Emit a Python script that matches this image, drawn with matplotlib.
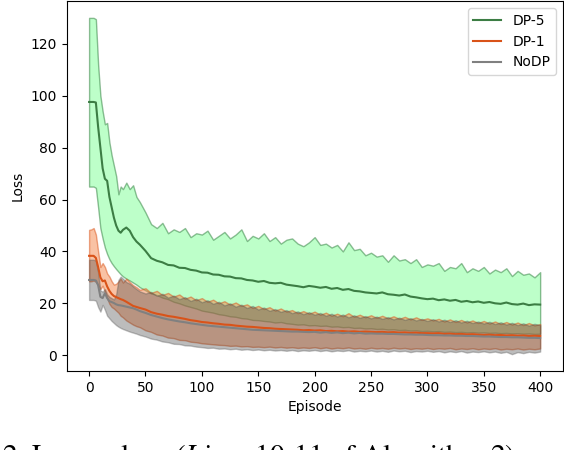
import matplotlib
matplotlib.use("Agg")
import matplotlib.pyplot as plt

plt.rcParams["mathtext.fontset"] = "stix"

episodes = [0, 2, 4, 6, 8, 10, 12, 14, 16, 18, 20, 22, 24, 26, 28, 30, 33, 36, 39, 42, 45] \
    + list(range(50, 405, 5))

dp5_mean = [97.6, 97.6, 97.6, 97.4, 88.0, 80.0, 72.0, 68.0, 67.2, 61.0, 57.0,
            53.0, 50.0, 48.0, 47.2, 48.3, 49.2, 48.0, 45.5, 43.8, 42.6,
            40.2, 37.4, 36.4, 35.8, 34.8, 34.6, 33.7, 33.6, 32.9, 32.6,
            31.9, 31.8, 31.1, 31.0, 30.4, 30.3, 29.7, 29.6, 29.0, 28.8,
            28.3, 28.6, 27.9, 27.7, 27.9, 27.2, 26.9, 26.6, 26.2, 26.7,
            26.4, 26.0, 26.3, 25.6, 25.9, 25.2, 25.5, 24.8, 24.6, 24.2,
            24.0, 23.8, 24.2, 23.5, 23.3, 23.0, 23.4, 22.6, 22.3, 21.9,
            21.6, 21.8, 21.2, 21.5, 21.0, 21.3, 20.6, 20.9, 20.4, 20.7,
            20.2, 20.5, 20.0, 19.8, 20.3, 19.7, 19.5, 19.9, 19.3, 19.6,
            19.5]
dp5_hi = [130.0, 130.0, 130.0, 129.5, 112.0, 100.0, 94.0, 89.0, 89.5, 82.0, 77.0,
          73.0, 69.0, 62.0, 65.0, 64.0, 66.5, 64.0, 65.5, 61.0, 59.0,
          55.0, 50.5, 49.0, 51.0, 47.0, 48.5, 47.5, 49.0, 45.5, 47.0,
          46.5, 48.0, 44.5, 46.0, 47.5, 45.0, 46.5, 48.5, 44.0, 46.0,
          45.0, 47.0, 44.0, 45.5, 43.0, 44.5, 45.0, 43.0, 42.0, 43.5,
          45.5, 42.5, 43.0, 41.5, 42.5, 40.0, 43.5, 40.5, 41.0, 38.5,
          39.5, 38.0, 38.5, 36.0, 38.5, 36.5, 37.0, 35.5, 37.0, 34.0,
          35.0, 34.5, 35.5, 32.5, 34.0, 33.5, 35.5, 32.0, 33.5, 32.5,
          34.0, 31.5, 33.0, 32.0, 33.5, 30.5, 32.5, 31.0, 31.5, 30.0,
          32.0]
dp5_lo = [65.0, 65.0, 65.0, 64.5, 57.0, 49.0, 45.0, 41.5, 39.0, 37.0, 35.5,
          34.3, 33.2, 32.2, 31.2, 30.4, 29.5, 28.8, 28.0, 27.2, 26.2,
          25.0, 23.8, 23.2, 22.2, 21.6, 20.6, 20.0, 19.2, 18.6, 18.0,
          17.2, 16.8, 16.4, 15.8, 15.5, 15.0, 14.8, 14.3, 14.1, 13.6,
          13.5, 13.2, 13.0, 12.6, 12.8, 12.3, 12.1, 11.8, 11.9, 11.5,
          11.6, 11.3, 11.4, 11.0, 11.1, 10.8, 10.9, 10.5, 10.6, 10.3,
          10.4, 10.1, 10.2, 9.9, 10.0, 9.7, 9.8, 9.5, 9.6, 9.3,
          9.4, 9.2, 9.3, 9.0, 9.1, 8.9, 9.0, 8.8, 8.9, 8.7,
          8.8, 8.6, 8.7, 8.5, 8.6, 8.4, 8.5, 8.3, 8.4, 8.2,
          8.3]

dp1_mean = [38.3, 38.3, 38.3, 37.5, 34.0, 30.0, 28.5, 28.8, 26.5, 24.8, 23.6,
            22.8, 22.4, 22.0, 21.6, 21.3, 20.6, 19.8, 19.0, 18.6, 18.2,
            17.6, 16.6, 16.0, 15.6, 15.1, 14.8, 14.4, 14.0, 13.5, 13.2,
            12.8, 12.6, 12.3, 12.1, 11.8, 11.7, 11.4, 11.2, 11.0, 10.9,
            10.7, 10.5, 10.4, 10.2, 10.1, 10.0, 9.9, 9.8, 9.6, 9.7,
            9.5, 9.6, 9.3, 9.4, 9.2, 9.3, 9.1, 9.2, 9.0, 9.1,
            9.0, 8.9, 9.0, 8.8, 8.9, 8.7, 8.8, 8.6, 8.7, 8.5,
            8.5, 8.4, 8.5, 8.2, 8.3, 8.1, 8.2, 8.0, 8.1, 7.9,
            7.8, 7.9, 7.7, 7.8, 7.6, 7.7, 7.5, 7.6, 7.4, 7.5,
            7.4]
dp1_hi = [48.3, 48.5, 49.0, 46.5, 40.0, 34.0, 35.5, 34.0, 31.5, 30.3, 28.5,
          27.2, 27.5, 28.4, 29.5, 28.0, 29.5, 28.2, 27.0, 26.2, 25.2,
          25.8, 24.0, 24.8, 23.2, 24.0, 22.6, 23.4, 21.8, 22.6, 21.2,
          22.0, 20.6, 21.4, 20.0, 20.8, 19.5, 20.3, 19.0, 19.6, 18.2,
          19.0, 17.8, 18.5, 17.2, 18.0, 16.8, 17.4, 16.2, 17.0, 16.0,
          16.8, 15.6, 16.4, 15.2, 16.0, 15.0, 16.2, 14.8, 15.6, 14.6,
          15.4, 14.4, 15.2, 14.2, 15.0, 14.0, 14.8, 13.8, 14.6, 13.6,
          14.2, 13.4, 14.0, 13.0, 13.8, 12.8, 13.6, 12.6, 13.4, 12.4,
          13.2, 12.2, 13.0, 12.0, 12.8, 11.8, 12.6, 11.6, 12.4, 11.5,
          12.0]
dp1_lo = [28.5, 28.5, 28.8, 28.3, 27.0, 25.5, 26.8, 24.5, 22.0, 19.8, 18.6,
          18.0, 17.2, 16.4, 15.2, 14.6, 13.4, 12.6, 11.8, 11.2, 10.8,
          9.6, 9.0, 8.0, 7.6, 6.8, 6.6, 5.9, 5.8, 5.2, 5.0,
          4.6, 4.4, 4.2, 4.0, 3.9, 3.6, 3.7, 3.4, 3.5, 3.2,
          3.3, 3.1, 3.3, 3.0, 3.2, 2.9, 3.1, 2.8, 3.0, 2.8,
          3.1, 2.7, 3.0, 2.6, 2.9, 2.7, 3.0, 2.6, 2.8, 2.5,
          2.9, 2.6, 2.8, 2.5, 2.9, 2.6, 2.8, 2.4, 2.7, 2.5,
          2.8, 2.4, 2.7, 2.5, 2.8, 2.3, 2.6, 2.4, 2.7, 2.3,
          2.6, 2.4, 2.7, 2.2, 2.5, 2.3, 2.6, 2.2, 2.5, 2.3,
          2.6]

nodp_mean = [29.0, 29.0, 29.0, 28.8, 27.0, 22.5, 22.0, 23.9, 22.0, 20.8, 20.5,
             20.1, 19.6, 19.3, 19.2, 19.0, 18.7, 18.4, 18.1, 17.6, 17.0,
             16.3, 15.5, 14.9, 14.3, 13.8, 13.4, 13.0, 12.7, 12.3, 12.0,
             11.7, 11.4, 11.2, 11.0, 10.8, 10.6, 10.4, 10.2, 10.0, 9.8,
             9.7, 9.6, 9.5, 9.4, 9.3, 9.2, 9.1, 9.1, 9.0, 8.9,
             9.0, 8.7, 8.9, 8.6, 8.8, 8.5, 8.7, 8.4, 8.6, 8.3,
             8.4, 8.3, 8.3, 8.2, 8.2, 8.1, 8.0, 8.0, 7.9, 7.9,
             7.8, 7.7, 7.7, 7.6, 7.6, 7.5, 7.5, 7.4, 7.4, 7.3,
             7.2, 7.2, 7.1, 7.0, 7.0, 6.9, 6.9, 6.8, 6.7, 6.7,
             6.6]
nodp_hi = [36.8, 36.8, 36.8, 36.5, 32.0, 25.0, 24.5, 25.5, 23.5, 22.5, 22.0,
           21.5, 23.5, 29.0, 30.3, 29.5, 28.2, 27.6, 26.5, 25.5, 24.6,
           23.8, 24.4, 22.9, 23.7, 22.2, 23.0, 21.6, 22.4, 20.9, 21.8,
           20.4, 21.2, 19.8, 20.6, 19.2, 20.0, 18.7, 19.5, 18.2, 19.0,
           17.6, 18.4, 17.1, 17.8, 16.7, 17.4, 16.2, 16.9, 15.8, 16.6,
           15.6, 16.3, 15.2, 16.0, 14.9, 15.7, 14.6, 15.4, 14.4, 15.1,
           14.2, 14.9, 14.0, 14.7, 13.8, 14.5, 13.6, 14.3, 13.4, 14.0,
           13.2, 13.9, 13.0, 13.7, 12.8, 13.5, 12.6, 13.3, 12.4, 13.0,
           12.2, 12.9, 12.0, 12.7, 11.8, 12.5, 11.6, 12.3, 11.4, 12.1,
           11.6]
nodp_lo = [21.3, 21.3, 21.3, 21.0, 18.5, 16.8, 19.4, 17.5, 15.2, 14.2, 13.2,
           12.4, 11.6, 11.0, 10.5, 10.1, 9.6, 9.1, 8.7, 8.3, 7.8,
           7.2, 6.4, 6.0, 5.3, 5.0, 4.4, 4.3, 3.8, 3.7, 3.3,
           3.1, 2.8, 2.9, 2.5, 2.6, 2.3, 2.5, 2.1, 2.3, 2.0,
           2.2, 1.9, 2.1, 1.8, 2.0, 1.7, 2.0, 1.6, 1.9, 1.7,
           2.0, 1.6, 1.9, 1.5, 1.8, 1.6, 1.9, 1.4, 1.7, 1.5,
           1.8, 1.4, 1.7, 1.3, 1.8, 1.5, 1.7, 1.2, 1.6, 1.4,
           1.7, 1.3, 1.6, 1.1, 1.5, 1.2, 1.6, 1.0, 1.4, 1.2,
           1.5, 1.1, 1.4, 0.9, 1.3, 0.4, 1.2, 0.8, 1.3, 1.0,
           1.4]

series_names = ["DP-5", "DP-1", "NoDP"]


fig = plt.figure(figsize=(5.64, 4.5), dpi=100)
ax = fig.add_axes([0.118, 0.1756, 0.8797, 0.822])

# bands first, then the mean lines on top
ax.fill_between(episodes, dp5_lo, dp5_hi, facecolor="#7dff95",
                edgecolor="#2a7a38", alpha=0.5, linewidth=1)
ax.fill_between(episodes, dp1_lo, dp1_hi, facecolor="#f5874b",
                edgecolor="#d95319", alpha=0.5, linewidth=1)
ax.fill_between(episodes, nodp_lo, nodp_hi, facecolor="#404040",
                edgecolor="#505050", alpha=0.35, linewidth=1)

ax.plot(episodes, dp5_mean, color="#3c7d44", label=series_names[0])
ax.plot(episodes, dp1_mean, color="#d95319", label=series_names[1])
ax.plot(episodes, nodp_mean, color="gray", label=series_names[2])

ax.set_xlabel("Episode")
ax.set_ylabel("Loss")
ax.legend(loc="upper right")

# caption from the paper, cut off by the crop
fig.text(0.004, 1 - 442 / 450, r"2. Loss values ($\mathit{Lines\ 10}$-$\mathit{11}$ of Algorithm 2)",
         family="STIXGeneral", fontsize=21, va="top", ha="left")

fig.savefig("out.png", dpi=100)
